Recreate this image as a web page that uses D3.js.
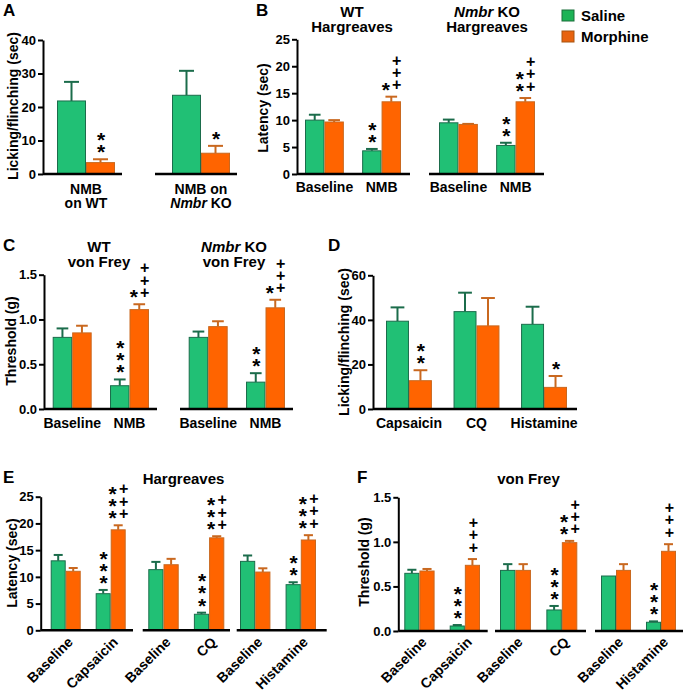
<!DOCTYPE html>
<html>
<head>
<meta charset="utf-8">
<script src="https://cdn.jsdelivr.net/npm/d3@7"></script>
<style>
  body { margin: 0; background: #fff; }
  text { font-family: "Liberation Sans", Arial, sans-serif; font-weight: bold; }
</style>
</head>
<body>
<div id="chart"></div>
<script>
// ---- Data ----
// A: licking/flinching after NMB
const aCats = ["NMB on WT", "NMB on Nmbr KO"];
const aSaline = [21.8, 23.5];
const aSalineErr = [5.7, 7.3];
const aMorphine = [3.4, 6.2];
const aMorphineErr = [1.0, 2.2];
const aSalineStars = [0, 0];
const aMorphineStars = [2, 1];
const aMorphinePlus = [0, 0];

// B: Hargreaves latency, WT then Nmbr KO
const bCats = ["Baseline", "NMB", "Baseline", "NMB"];
const bSaline = [10.0, 4.3, 9.5, 5.3];
const bSalineErr = [1.0, 0.35, 0.6, 0.5];
const bMorphine = [9.65, 13.4, 9.2, 13.4];
const bMorphineErr = [0.35, 0.95, 0.1, 0.7];
const bSalineStars = [0, 2, 0, 2];
const bMorphineStars = [0, 1, 0, 2];
const bMorphinePlus = [0, 3, 0, 3];

// C: von Frey threshold, WT then Nmbr KO
const cCats = ["Baseline", "NMB", "Baseline", "NMB"];
const cSaline = [0.80, 0.26, 0.80, 0.30];
const cSalineErr = [0.10, 0.07, 0.065, 0.10];
const cMorphine = [0.85, 1.11, 0.92, 1.13];
const cMorphineErr = [0.08, 0.06, 0.06, 0.09];
const cSalineStars = [0, 3, 0, 2];
const cMorphineStars = [0, 1, 0, 1];
const cMorphinePlus = [0, 3, 0, 3];

// D: licking/flinching by pruritogen
const dCats = ["Capsaicin", "CQ", "Histamine"];
const dSaline = [39.4, 43.7, 38.0];
const dSalineErr = [6.2, 8.5, 7.9];
const dMorphine = [12.7, 37.3, 9.7];
const dMorphineErr = [4.7, 12.5, 5.1];
const dSalineStars = [0, 0, 0];
const dMorphineStars = [2, 0, 1];
const dMorphinePlus = [0, 0, 0];

// E: Hargreaves latency
const eCats = ["Baseline", "Capsaicin", "Baseline", "CQ", "Baseline", "Histamine"];
const eSaline = [13.0, 6.85, 11.35, 3.0, 12.9, 8.54];
const eSalineErr = [1.1, 0.7, 1.45, 0.3, 1.1, 0.45];
const eMorphine = [11.04, 18.8, 12.27, 17.3, 10.9, 16.9];
const eMorphineErr = [0.62, 0.85, 1.1, 0.3, 0.7, 0.9];
const eSalineStars = [0, 3, 0, 3, 0, 2];
const eMorphineStars = [0, 3, 0, 3, 0, 3];
const eMorphinePlus = [0, 3, 0, 3, 0, 3];

// F: von Frey threshold
const fCats = ["Baseline", "Capsaicin", "Baseline", "CQ", "Baseline", "Histamine"];
const fSaline = [0.647, 0.056, 0.68, 0.236, 0.617, 0.098];
const fSalineErr = [0.04, 0.011, 0.07, 0.045, 0, 0.01];
const fMorphine = [0.673, 0.737, 0.68, 0.991, 0.68, 0.894];
const fMorphineErr = [0.023, 0.07, 0.07, 0.02, 0.07, 0.08];
const fSalineStars = [0, 3, 0, 3, 0, 3];
const fMorphineStars = [0, 0, 0, 2, 0, 0];
const fMorphinePlus = [0, 3, 0, 3, 0, 3];

const legendItems = ["Saline", "Morphine"];

// ---- Styles ----
const GREEN = "#21c075", GREEN_DK = "#1b6c4b";
const ORANGE = "#ff6400", ORANGE_DK = "#c9681f";
const FONT = "'Liberation Sans', Arial, sans-serif";

const svg = d3.select("#chart")
    .append("svg")
    .attr("width", 685)
    .attr("height", 692);

svg.append("rect").attr("width", 685).attr("height", 692).attr("fill", "#fff");

// build per-bar rows from the arrays
const rows = (cats, s, se, m, me, ss, ms, mp) => cats.map((c, i) => ({
    i, cat: c,
    bars: [
        { key: "s", v: s[i], e: se[i], stars: ss[i], plus: 0 },
        { key: "m", v: m[i], e: me[i], stars: ms[i], plus: mp[i] }
    ]
}));

// one text per column, one tspan per symbol
function markColumn(sel, sym, n, x, yBottom, size, shift) {
    if (!n) return;
    const t = sel.append("text").attr("text-anchor", "middle").attr("font-size", size);
    d3.range(n).forEach(k => {
        t.append("tspan").attr("x", x).attr("y", yBottom - k * 12.2 + shift).text(sym);
    });
}

function drawPanel(p) {
    const g = svg.append("g");
    const y = d3.scaleLinear().domain(p.domain).range(p.yRange);

    // panel letter
    g.append("text").attr("x", p.letter[1]).attr("y", p.letter[2])
        .attr("font-size", 17).text(p.letter[0]);

    // y axis
    g.append("g")
        .attr("transform", `translate(${p.axisX},0)`)
        .call(d3.axisLeft(y).tickValues(p.ticks).tickFormat(p.fmt).tickSize(5).tickSizeOuter(0))
        .call(a => {
            a.select(".domain").attr("stroke-width", 2);
            a.selectAll(".tick line").attr("stroke-width", 2);
            a.selectAll(".tick text").attr("font-size", 13).attr("font-family", FONT)
                .attr("font-weight", "bold").attr("x", -7).attr("fill", "#000");
        });

    // y label
    g.append("text")
        .attr("transform", `translate(${p.ylabel[1]},${p.ylabel[2]}) rotate(-90)`)
        .attr("text-anchor", "middle").attr("font-size", 14).text(p.ylabel[0]);

    // titles
    (p.titles || []).forEach(t => {
        const tt = g.append("text").attr("x", t.x).attr("y", t.y)
            .attr("text-anchor", "middle").attr("font-size", 15);
        if (t.italic) {
            tt.append("tspan").attr("font-style", "italic").text(t.italic);
            tt.append("tspan").text(t.text);
        } else tt.text(t.text);
    });

    const data = p.rows;
    p.segments.forEach(seg => {
        const segRows = seg.idx.map(i => data[i]);
        const x = d3.scaleBand().domain(seg.idx).range(seg.range).paddingInner(seg.pad || 0);
        const sub = d3.scaleBand().domain(["s", "m"]).range([0, x.bandwidth()]);
        const bw = sub.bandwidth();
        const cap = Math.min(bw * 0.6, 15);

        const grp = g.append("g");
        const bars = grp.selectAll("g.grp")
            .data(segRows)
            .join("g")
            .attr("transform", d => `translate(${x(d.i)},0)`)
            .selectAll("g.bar")
            .data(d => d.bars)
            .join("g");

        // error bars (upper only)
        bars.filter(b => b.e > 0).append("line")
            .attr("x1", b => sub(b.key) + bw / 2).attr("x2", b => sub(b.key) + bw / 2)
            .attr("y1", b => y(b.v)).attr("y2", b => y(b.v + b.e))
            .attr("stroke", b => b.key === "s" ? GREEN_DK : ORANGE_DK).attr("stroke-width", 2);
        bars.filter(b => b.e > 0).append("line")
            .attr("x1", b => sub(b.key) + bw / 2 - cap / 2).attr("x2", b => sub(b.key) + bw / 2 + cap / 2)
            .attr("y1", b => y(b.v + b.e)).attr("y2", b => y(b.v + b.e))
            .attr("stroke", b => b.key === "s" ? GREEN_DK : ORANGE_DK).attr("stroke-width", 2);

        bars.append("rect")
            .attr("x", b => sub(b.key) + 0.5)
            .attr("width", bw - 1)
            .attr("y", b => y(b.v))
            .attr("height", b => y(0) - y(b.v))
            .attr("fill", b => b.key === "s" ? GREEN : ORANGE)
            .attr("stroke", b => b.key === "s" ? GREEN_DK : ORANGE_DK)
            .attr("stroke-width", 1);

        // significance marks
        bars.each(function (b) {
            const sel = d3.select(this);
            const cx = sub(b.key) + bw / 2;
            const base = y(b.v + b.e) - 12;
            const both = b.stars > 0 && b.plus > 0;
            markColumn(sel, "*", b.stars, both ? cx - 5.5 : cx + 0.5, base, 21, 12);
            markColumn(sel, "+", b.plus, both ? cx + 5.5 : cx + 1, base, 16, 5.5);
        });

        // baseline of this segment
        grp.append("line")
            .attr("x1", seg.x0).attr("x2", seg.x1)
            .attr("y1", y(0)).attr("y2", y(0))
            .attr("stroke", "#000").attr("stroke-width", 2.5);

        // category labels
        segRows.forEach(d => {
            const cx = x(d.i) + x.bandwidth() / 2;
            if (p.labelMode === "rot") {
                grp.append("text")
                    .attr("transform", `translate(${cx + p.labelDx},${p.labelY}) rotate(-45)`)
                    .attr("text-anchor", "end").attr("font-size", 14).text(d.cat);
            } else if (p.labelMode === "two") {
                const t = p.twoLine[d.i];
                const lab = grp.append("text").attr("text-anchor", "middle").attr("font-size", 14);
                lab.append("tspan").attr("x", cx).attr("y", p.labelY).text(t[0]);
                if (t[2]) {
                    lab.append("tspan").attr("x", cx).attr("y", p.labelY + 14)
                        .attr("font-style", "italic").text(t[2]);
                    lab.append("tspan").text(t[1]);
                } else lab.append("tspan").attr("x", cx).attr("y", p.labelY + 14).text(t[1]);
            } else {
                grp.append("text").attr("x", cx).attr("y", p.labelY)
                    .attr("text-anchor", "middle").attr("font-size", 14).text(d.cat);
            }
        });
    });
}

// Panel A
drawPanel({
    letter: ["A", 3, 16],
    domain: [0, 40], yRange: [174, 40], axisX: 43,
    ticks: [0, 10, 20, 30, 40], fmt: d3.format("d"),
    ylabel: ["Licking/flinching (sec)", 18, 106],
    rows: rows(aCats, aSaline, aSalineErr, aMorphine, aMorphineErr, aSalineStars, aMorphineStars, aMorphinePlus),
    segments: [
        { x0: 43, x1: 122, range: [57, 115], idx: [0] },
        { x0: 155, x1: 237, range: [172, 230], idx: [1] }
    ],
    labelMode: "two", labelY: 194,
    twoLine: [["NMB", "on WT"], ["NMB on", " KO", "Nmbr"]]
});

// Panel B
drawPanel({
    letter: ["B", 256, 16],
    domain: [0, 25], yRange: [174, 39.3], axisX: 297,
    ticks: [0, 5, 10, 15, 20, 25], fmt: d3.format("d"),
    ylabel: ["Latency (sec)", 268, 108],
    titles: [
        { x: 352, y: 16.5, text: "WT" }, { x: 352, y: 32, text: "Hargreaves" },
        { x: 487, y: 16.5, italic: "Nmbr", text: " KO" }, { x: 487, y: 32, text: "Hargreaves" }
    ],
    rows: rows(bCats, bSaline, bSalineErr, bMorphine, bMorphineErr, bSalineStars, bMorphineStars, bMorphinePlus),
    segments: [
        { x0: 297, x1: 410, range: [305, 401], pad: 0.32, idx: [0, 1] },
        { x0: 429, x1: 544, range: [439, 535], pad: 0.32, idx: [2, 3] }
    ],
    labelMode: "one", labelY: 192
});

// Panel C
drawPanel({
    letter: ["C", 3, 251],
    domain: [0, 1.5], yRange: [409, 274.7], axisX: 44,
    ticks: [0, 0.5, 1.0, 1.5], fmt: d3.format(".1f"),
    ylabel: ["Threshold (g)", 16, 341],
    titles: [
        { x: 99, y: 251.5, text: "WT" }, { x: 99, y: 266.5, text: "von Frey" },
        { x: 234, y: 251.5, italic: "Nmbr", text: " KO" }, { x: 234, y: 266.5, text: "von Frey" }
    ],
    rows: rows(cCats, cSaline, cSalineErr, cMorphine, cMorphineErr, cSalineStars, cMorphineStars, cMorphinePlus),
    segments: [
        { x0: 44, x1: 157, range: [52.7, 149], pad: 0.32, idx: [0, 1] },
        { x0: 180, x1: 293, range: [188.7, 285], pad: 0.32, idx: [2, 3] }
    ],
    labelMode: "one", labelY: 428
});

// Panel D
drawPanel({
    letter: ["D", 328, 251],
    domain: [0, 60], yRange: [409, 275.3], axisX: 373,
    ticks: [0, 20, 40, 60], fmt: d3.format("d"),
    ylabel: ["Licking/flinching (sec)", 349, 342],
    rows: rows(dCats, dSaline, dSalineErr, dMorphine, dMorphineErr, dSalineStars, dMorphineStars, dMorphinePlus),
    segments: [
        { x0: 373, x1: 577, range: [386, 567], pad: 0.32, idx: [0, 1, 2] }
    ],
    labelMode: "one", labelY: 428
});

// Panel E
drawPanel({
    letter: ["E", 3, 483],
    domain: [0, 25], yRange: [630.3, 496.7], axisX: 40.7,
    ticks: [0, 5, 10, 15, 20, 25], fmt: d3.format("d"),
    ylabel: ["Latency (sec)", 17, 563],
    titles: [{ x: 183.5, y: 484, text: "Hargreaves" }],
    rows: rows(eCats, eSaline, eSalineErr, eMorphine, eMorphineErr, eSalineStars, eMorphineStars, eMorphinePlus),
    segments: [
        { x0: 40.7, x1: 133, range: [50.7, 125.7], pad: 0.333, idx: [0, 1] },
        { x0: 142.7, x1: 230, range: [148.3, 224.3], pad: 0.333, idx: [2, 3] },
        { x0: 236.7, x1: 326.7, range: [240, 316], pad: 0.333, idx: [4, 5] }
    ],
    labelMode: "rot", labelY: 643, labelDx: 8
});

// Panel F
drawPanel({
    letter: ["F", 357, 483],
    domain: [0, 1.5], yRange: [631, 497.3], axisX: 398.3,
    ticks: [0, 0.5, 1.0, 1.5], fmt: d3.format(".1f"),
    ylabel: ["Threshold (g)", 369, 562],
    titles: [{ x: 528.5, y: 484, text: "von Frey" }],
    rows: rows(fCats, fSaline, fSalineErr, fMorphine, fMorphineErr, fSalineStars, fMorphineStars, fMorphinePlus),
    segments: [
        { x0: 398.3, x1: 487.7, range: [404.3, 480], pad: 0.333, idx: [0, 1] },
        { x0: 495, x1: 586, range: [500, 577.3], pad: 0.333, idx: [2, 3] },
        { x0: 595, x1: 683, range: [601, 676], pad: 0.333, idx: [4, 5] }
    ],
    labelMode: "rot", labelY: 643, labelDx: 8
});

// Legend
const legend = svg.append("g").attr("transform", "translate(562,10)");
legend.selectAll("rect")
    .data(legendItems)
    .join("rect")
    .attr("x", 0).attr("y", (d, i) => i * 21)
    .attr("width", 12).attr("height", 11)
    .attr("fill", (d, i) => i === 0 ? "#1db356" : "#e8630f")
    .attr("stroke", (d, i) => i === 0 ? "#1a6e3a" : "#a85510");
legend.selectAll("text")
    .data(legendItems)
    .join("text")
    .attr("x", 19).attr("y", (d, i) => 10.5 + i * 21)
    .attr("font-size", 15)
    .text(d => d);
</script>
</body>
</html>
